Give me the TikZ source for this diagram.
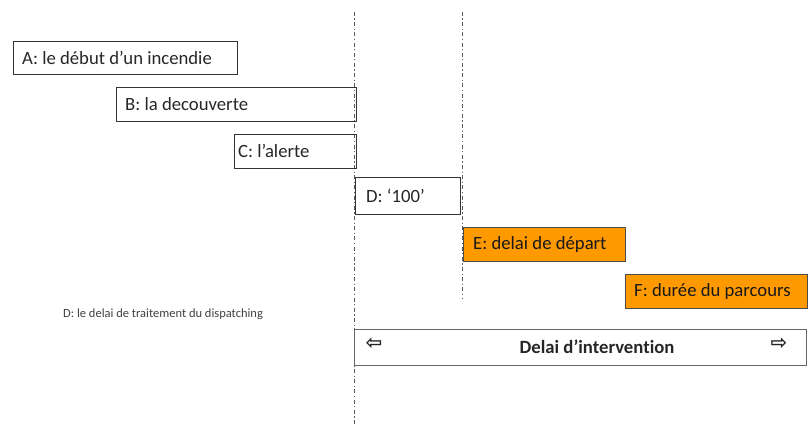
\documentclass[tikz,border=0pt]{standalone}
\usepackage{fontspec}
\setmainfont{Carlito}[Ligatures=NoCommon]
\newfontfamily\symfont{DejaVu Sans}
\definecolor{orng}{RGB}{255,153,0}
\definecolor{guide}{RGB}{90,90,90}
\begin{document}
\begin{tikzpicture}[x=1pt,y=-1pt,
  box/.style={draw=black!80, line width=0.9pt, anchor=north west, inner sep=0pt},
  obox/.style={box, fill=orng, draw=black!70},
  lbl/.style={anchor=west, inner sep=0pt, font=\fontsize{18.7}{22}\selectfont, text=black!85},
  guideline/.style={draw=guide, line width=0.9pt, dash pattern=on 4pt off 2.5pt on 1.2pt off 2.5pt},
  note/.style={font=\fontsize{12.5}{14}\selectfont, text=black!75, anchor=west, inner sep=0pt},
  arr/.style={font=\symfont\bfseries\fontsize{20}{22}\selectfont, text=black!85, inner sep=0pt}]
\useasboundingbox (0,0) rectangle (808,425);
% guide lines
\coordinate (g1t) at (354,12);
\coordinate (g1b) at (354,425);
\coordinate (g2t) at (462,12);
\coordinate (g2b) at (462,298);
\draw[guideline] (g1t) -- (g1b);
\draw[guideline] (g2t) -- (g2b);
% boxes
\node[box, minimum width=224pt, minimum height=33pt] (A) at (13,41) {};
\node[lbl] (At) at ([xshift=9pt]A.west) {A: le début d’un incendie};
\node[box, minimum width=240pt, minimum height=34pt] (B) at (116,87) {};
\node[lbl] (Bt) at ([xshift=9pt]B.west) {B: la decouverte};
\node[box, minimum width=122pt, minimum height=34pt] (C) at (234,134) {};
\node[lbl] (Ct) at ([xshift=4pt]C.west) {C: l’alerte};
\node[box, minimum width=105pt, minimum height=37pt] (D) at (355,177) {};
\node[lbl] (Dt) at ([xshift=11pt]D.west) {D: ‘100’};
\node[obox, minimum width=162pt, minimum height=34pt] (E) at (463,227) {};
\node[lbl, text=black!90] (Et) at ([xshift=10pt]E.west) {E: delai de départ};
\node[obox, minimum width=182pt, minimum height=34pt] (F) at (625,274) {};
\node[lbl, text=black!90] (Ft) at ([xshift=9pt]F.west) {F: durée du parcours};
\node[note] (N) at (63,314) {D: le delai de traitement du dispatching};
\node[box, draw=black!60, minimum width=452pt, minimum height=36pt] (I) at (354,329) {};
\node[font=\bfseries\fontsize{18.7}{22}\selectfont, text=black!85, inner sep=0pt] (IT) at (597,347) {Delai d’intervention};
\node[arr] (L) at (374,344) {⇦};
\node[arr] (R) at (779,344) {⇨};
\end{tikzpicture}
\end{document}
